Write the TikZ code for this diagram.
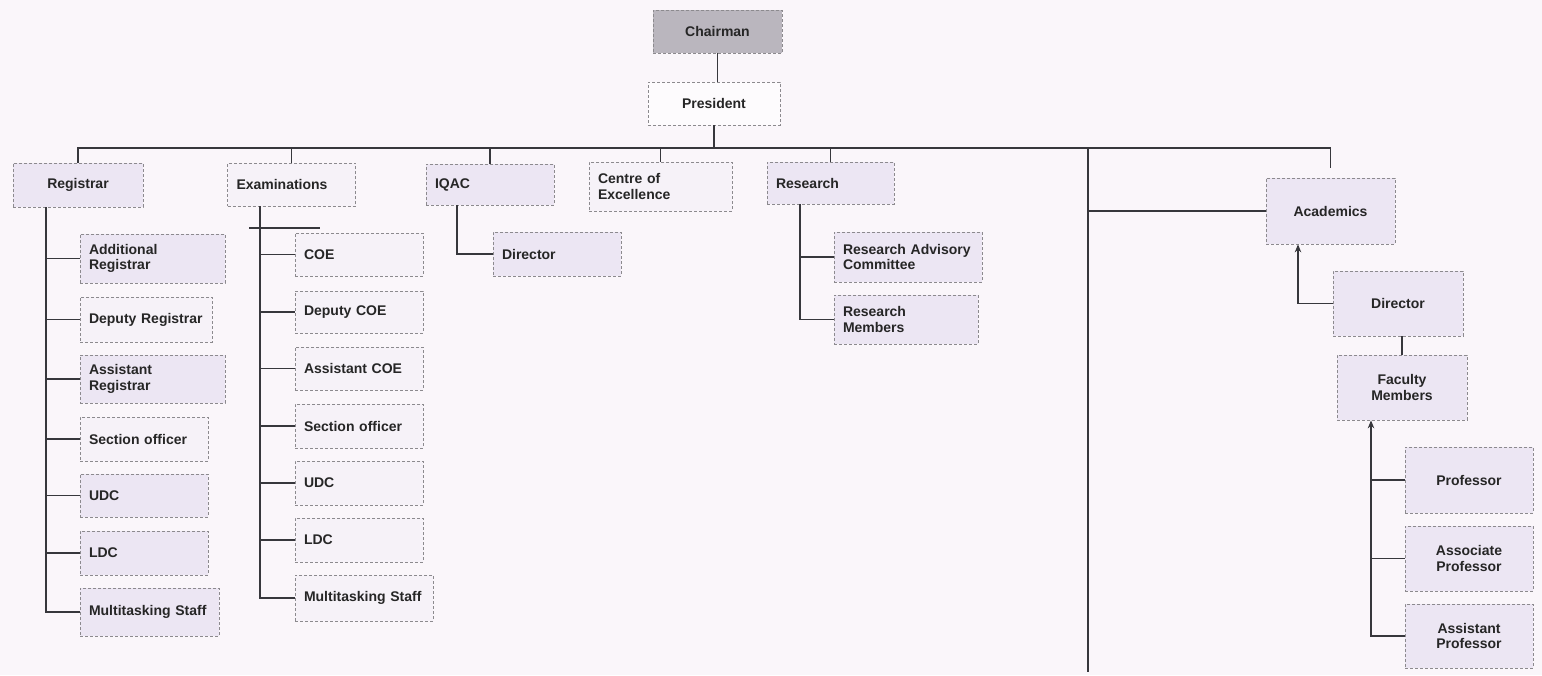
\documentclass[tikz,border=0pt]{standalone}
\usepackage{fontspec}
\setmainfont{Liberation Sans}
\usetikzlibrary{arrows, arrows.meta, positioning}
\definecolor{paper}{RGB}{250,246,250}
\definecolor{boxfill}{RGB}{236,230,243}
\definecolor{palefill}{RGB}{246,242,248}
\definecolor{chairfill}{RGB}{186,182,190}
\definecolor{boxline}{RGB}{140,138,142}
\definecolor{linkcol}{RGB}{55,55,60}

\begin{document}
\begin{tikzpicture}[>={Stealth[length=8pt,width=6.5pt]}, x=1pt, y=-1pt, font=\fontsize{14}{15.5}\selectfont\bfseries, text=black!85,
  orgbox/.style={draw=boxline, densely dashed, line width=0.7pt, fill=boxfill, inner sep=0pt, align=center},
  leftbox/.style={orgbox, align=left, inner xsep=9pt},
  link/.style={draw=linkcol, line width=1.3pt}]
\useasboundingbox (0,0) rectangle (1542,675);
\fill[paper] (0,0) rectangle (1542,675);
%
\node[orgbox, fill=chairfill, minimum width=129, minimum height=43] (chair) at (717.5,31.5) {Chairman};
\node[orgbox, fill=white!60!paper, minimum width=132, minimum height=43] (pres) at (714,103.5) {President};
%
\node[orgbox, minimum width=130, minimum height=44] (reg) at (78,185) {Registrar};
\node[leftbox, fill=palefill, text width=110, minimum height=43] (exam) at (291.5,184.5) {Examinations};
\node[leftbox, text width=110, minimum height=41] (iqac) at (490,184.5) {IQAC};
\node[leftbox, fill=palefill, text width=125, minimum height=49] (centre) at (660.5,186.5) {Centre of\\Excellence};
\node[leftbox, text width=109, minimum height=42] (research) at (830.5,183) {Research};
\node[orgbox, minimum width=129, minimum height=66] (acad) at (1330.5,211) {Academics};
%
\node[leftbox, text width=127, minimum height=49] (addreg) at (152.5,258.5) {Additional\\Registrar};
\node[leftbox, fill=palefill, text width=114, minimum height=45] (depreg) at (146,319.5) {Deputy Registrar};
\node[leftbox, text width=127, minimum height=48] (asreg) at (152.5,379) {Assistant\\Registrar};
\node[leftbox, fill=palefill, text width=110, minimum height=44] (regso) at (144,439) {Section officer};
\node[leftbox, text width=110, minimum height=43] (regudc) at (144,495.5) {UDC};
\node[leftbox, text width=110, minimum height=44] (regldc) at (144,553) {LDC};
\node[leftbox, text width=121, minimum height=48] (regmts) at (149.5,612) {Multitasking Staff};
%
\node[leftbox, fill=palefill, text width=110, minimum height=43] (coe) at (359,254.5) {COE};
\node[leftbox, fill=palefill, text width=110, minimum height=42] (depcoe) at (359,312) {Deputy COE};
\node[leftbox, fill=palefill, text width=110, minimum height=43] (ascoe) at (359,368.5) {Assistant COE};
\node[leftbox, fill=palefill, text width=110, minimum height=44] (exso) at (359,426) {Section officer};
\node[leftbox, fill=palefill, text width=110, minimum height=44] (exudc) at (359,483) {UDC};
\node[leftbox, fill=palefill, text width=110, minimum height=44] (exldc) at (359,540) {LDC};
\node[leftbox, fill=palefill, text width=120, minimum height=46] (exmts) at (364,598) {Multitasking Staff};
%
\node[leftbox, text width=110, minimum height=44] (iqdir) at (557,254) {Director};
\node[leftbox, text width=130, minimum height=50] (rac) at (908,257) {Research Advisory\\Committee};
\node[leftbox, text width=126, minimum height=49] (rmem) at (906,319.5) {Research\\Members};
%
\node[orgbox, minimum width=130, minimum height=65] (adir) at (1398,303.5) {Director};
\node[orgbox, minimum width=130, minimum height=65] (fac) at (1402,387.5) {Faculty\\Members};
\node[orgbox, minimum width=128, minimum height=66] (prof) at (1469,480) {Professor};
\node[orgbox, minimum width=128, minimum height=65] (aprof) at (1469,558.5) {Associate\\Professor};
\node[orgbox, minimum width=128, minimum height=64] (asprof) at (1469,636) {Assistant\\Professor};
%
\coordinate (bus) at (0,148);
\coordinate (trunk) at (1088,672);
\coordinate (regspine) at (46,0);
\coordinate (examspine) at (260,0);
\coordinate (iqspine) at (457,0);
\coordinate (resspine) at (800,0);
\coordinate (acarrow) at (1298,0);
\coordinate (facspine) at (1371,0);
%
\draw[link] (chair) -- (chair |- pres.north);
\draw[link] (pres) -- (pres |- bus);
\draw[link] (reg) -- (reg |- bus) -- (acad |- bus);
\draw[link, shorten >=10pt] (acad |- bus) -- (acad);
\foreach \n in {exam, iqac, centre, research}
  \draw[link] (\n |- bus) -- (\n);
\draw[link] (trunk |- bus) -- (trunk);
\draw[link] (trunk |- acad) -- (acad);
%
\draw[link] (regspine |- reg.south) |- (regmts);
\foreach \n in {addreg, depreg, asreg, regso, regudc, regldc}
  \draw[link] (regspine |- \n) -- (\n);
%
\draw[link] (examspine |- exam.south) |- (exmts);
\foreach \n in {coe, depcoe, ascoe, exso, exudc, exldc}
  \draw[link] (examspine |- \n) -- (\n);
\draw[link] (249,228) -- (320,228);
%
\draw[link] (iqspine |- iqac.south) |- (iqdir);
\draw[link] (resspine |- research.south) |- (rmem);
\draw[link] (resspine |- rac) -- (rac);
%
\draw[link, ->] (adir) -| (acarrow |- acad.south);
\draw[link] (fac) -- (fac |- adir.south);
\draw[link, ->] (asprof) -| (facspine |- fac.south);
\foreach \n in {prof, aprof}
  \draw[link] (facspine |- \n) -- (\n);
\end{tikzpicture}
\end{document}
